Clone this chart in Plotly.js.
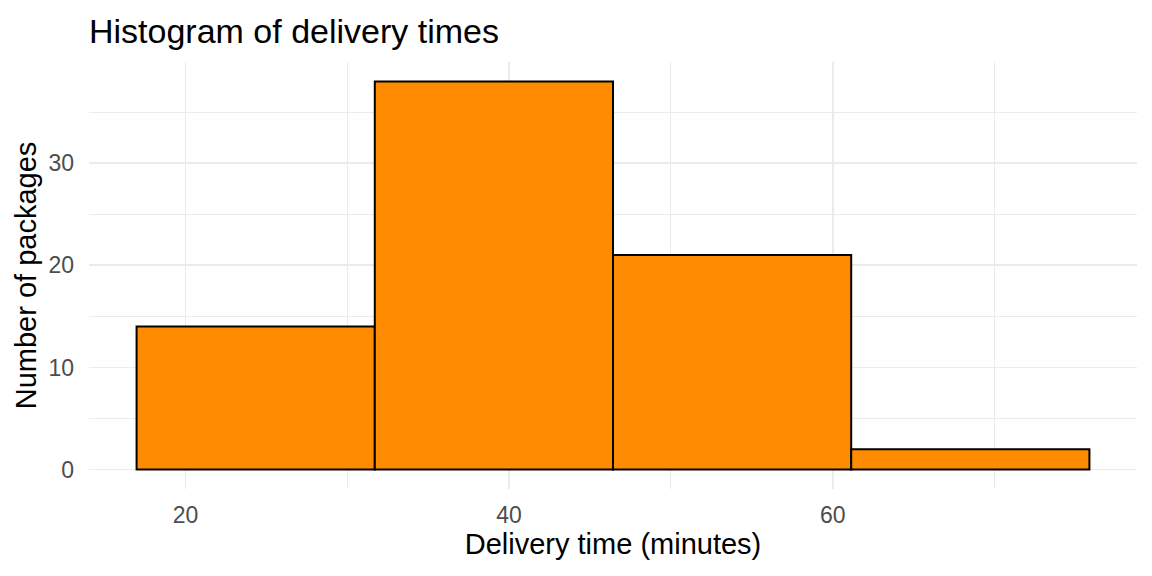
<!DOCTYPE html>
<html>
<head>
<meta charset="utf-8">
<script src="https://cdn.plot.ly/plotly-3.0.1.min.js"></script>
<style>html,body{margin:0;padding:0;background:#fff;}#chart{width:1152px;height:576px;}</style>
</head>
<body>
<div id="chart"></div>
<script>
// Histogram bin edges (minutes) and counts
const binEdges = [16.98, 31.70, 46.42, 61.14, 75.86];
const counts = [14, 38, 21, 2];
const xTickVals = [20, 40, 60];
const yTickVals = [0, 10, 20, 30];

const centers = counts.map((_, i) => (binEdges[i] + binEdges[i + 1]) / 2);
const widths = counts.map((_, i) => binEdges[i + 1] - binEdges[i]);

const fontFam = 'Arial, "Liberation Sans", sans-serif';
const gridCol = '#EBEBEB';

const trace = {
  type: 'bar',
  x: centers,
  y: counts,
  width: widths,
  marker: { color: '#FF8C00', line: { color: '#000000', width: 2 } },
  hoverinfo: 'x+y'
};

const layout = {
  width: 1152, height: 576,
  paper_bgcolor: '#fff', plot_bgcolor: '#fff',
  margin: { l: 89, r: 15, t: 62, b: 87 },
  showlegend: false,
  bargap: 0,
  font: { family: fontFam, color: '#000' },
  title: {
    text: 'Histogram of delivery times',
    font: { family: fontFam, size: 34, color: '#000' },
    xref: 'paper', x: 0, xanchor: 'left',
    yref: 'container', y: 1 - 31 / 576, yanchor: 'middle'
  },
  xaxis: {
    range: [14.04, 78.80],
    tickvals: xTickVals,
    ticktext: xTickVals.map(String),
    ticks: '', showline: false, zeroline: false,
    showgrid: true, gridcolor: gridCol, gridwidth: 1.6,
    minor: { dtick: 10, tick0: 0, showgrid: true, gridcolor: gridCol, gridwidth: 1.0 },
    tickfont: { family: fontFam, size: 23, color: '#4D4D4D' },
    ticklabelstandoff: 10,
    title: { text: 'Delivery time (minutes)', font: { family: fontFam, size: 29, color: '#000' }, standoff: 6 },
    fixedrange: true
  },
  yaxis: {
    range: [-1.9, 39.9],
    tickvals: yTickVals,
    ticktext: yTickVals.map(String),
    ticks: '', showline: false, zeroline: false,
    showgrid: true, gridcolor: gridCol, gridwidth: 1.6,
    minor: { dtick: 10, tick0: 5, showgrid: true, gridcolor: gridCol, gridwidth: 1.0 },
    tickfont: { family: fontFam, size: 23, color: '#4D4D4D' },
    ticklabelstandoff: 14,
    title: { text: 'Number of packages', font: { family: fontFam, size: 29, color: '#000' }, standoff: 3 },
    fixedrange: true
  }
};

Plotly.newPlot('chart', [trace], layout, { displayModeBar: false, staticPlot: true });
</script>
</body>
</html>
